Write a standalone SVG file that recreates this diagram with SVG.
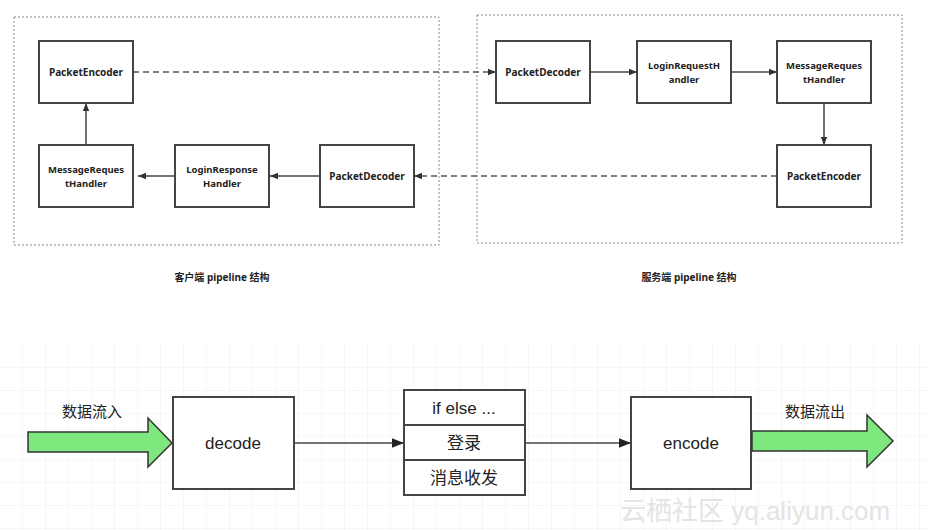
<svg xmlns="http://www.w3.org/2000/svg" width="944" height="530" viewBox="0 0 944 530">
<style>
.box{fill:#fff;stroke:#444;stroke-width:2}
.grp{fill:none;stroke:#888;stroke-width:1;stroke-dasharray:2 2}
.t{font-family:"Noto Sans","Noto Sans CJK SC",sans-serif;font-weight:bold;font-size:10px;fill:#222;text-anchor:middle}
.t2{font-family:"Noto Sans","Noto Sans CJK SC",sans-serif;font-weight:bold;font-size:9.5px;fill:#222;text-anchor:middle}
.b{font-family:"Liberation Sans","Noto Sans CJK SC",sans-serif;font-size:17px;fill:#222;text-anchor:middle}
.c{stroke:#444;stroke-width:1.5;fill:none}
.d{stroke:#555;stroke-width:1.5;fill:none;stroke-dasharray:6 4}
.ga{fill:#7ee87e;stroke:#333;stroke-width:1.5}
</style>
<defs>
<marker id="a" viewBox="0 0 10 10" refX="10" refY="5" markerWidth="8" markerHeight="8" markerUnits="userSpaceOnUse" orient="auto"><path d="M0,1L10,5L0,9z" fill="#333"/></marker>
<marker id="A" viewBox="0 0 10 10" refX="10" refY="5" markerWidth="12" markerHeight="12" markerUnits="userSpaceOnUse" orient="auto"><path d="M0,1L10,5L0,9z" fill="#222"/></marker>
<pattern id="grid" width="23" height="23" patternUnits="userSpaceOnUse"><path d="M23 0V23H0" fill="none" stroke="#ececec"/></pattern>
</defs>
<rect width="944" height="530" fill="#fff"/>
<rect x="0" y="345" width="930" height="185" fill="url(#grid)"/>
<rect class="grp" x="14" y="17" width="425" height="228"/>
<rect class="grp" x="477" y="15" width="425" height="228"/>
<text class="t" x="222" y="281">客户端 pipeline 结构</text>
<text class="t" x="689" y="281">服务端 pipeline 结构</text>
<g id="connectors">
<path class="d" d="M133 72H496" marker-end="url(#a)"/>
<path class="d" d="M777 176H414" marker-end="url(#a)"/>
<path class="c" d="M86 145V103" marker-end="url(#a)"/>
<path class="c" d="M175 176H138" marker-end="url(#a)"/>
<path class="c" d="M320 176H270" marker-end="url(#a)"/>
<path class="c" d="M590 72H637" marker-end="url(#a)"/>
<path class="c" d="M731 72H777" marker-end="url(#a)"/>
<path class="c" d="M824 103V145" marker-end="url(#a)"/>
<path class="c" d="M294 443H404" marker-end="url(#A)"/>
<path class="c" d="M525 443H631" marker-end="url(#A)"/>
</g>
<g id="c_enc"><rect class="box" x="39" y="41" width="94" height="62"/><text class="t" x="86" y="76">PacketEncoder</text></g>
<g id="c_msg"><rect class="box" x="39" y="145" width="94" height="62"/><text class="t2" x="86" y="173">MessageReques</text><text class="t2" x="86" y="187">tHandler</text></g>
<g id="c_login"><rect class="box" x="175" y="145" width="94" height="62"/><text class="t2" x="222" y="173">LoginResponse</text><text class="t2" x="222" y="187">Handler</text></g>
<g id="c_dec"><rect class="box" x="320" y="145" width="94" height="62"/><text class="t" x="367" y="180">PacketDecoder</text></g>
<g id="s_dec"><rect class="box" x="496" y="41" width="94" height="62"/><text class="t" x="543" y="76">PacketDecoder</text></g>
<g id="s_login"><rect class="box" x="637" y="41" width="94" height="62"/><text class="t2" x="684" y="69">LoginRequestH</text><text class="t2" x="684" y="83">andler</text></g>
<g id="s_msg"><rect class="box" x="777" y="41" width="94" height="62"/><text class="t2" x="824" y="69">MessageReques</text><text class="t2" x="824" y="83">tHandler</text></g>
<g id="s_enc"><rect class="box" x="777" y="145" width="94" height="62"/><text class="t" x="824" y="180">PacketEncoder</text></g>
<g id="in"><path class="ga" d="M28 432H148V418L172 443L148 467V452H28z"/><text class="b" x="92" y="417" style="font-size:15px">数据流入</text></g>
<g id="decode"><rect class="box" x="173" y="397" width="121" height="92"/><text class="b" x="233" y="449">decode</text></g>
<g id="stack"><rect class="box" x="404" y="390" width="121" height="35"/><rect class="box" x="404" y="425" width="121" height="35"/><rect class="box" x="404" y="460" width="121" height="35"/>
<text class="b" x="464" y="414">if else ...</text><text class="b" x="464" y="449">登录</text><text class="b" x="464" y="484">消息收发</text></g>
<g id="encode"><rect class="box" x="631" y="397" width="120" height="92"/><text class="b" x="691" y="449">encode</text></g>
<g id="out"><path class="ga" d="M752 431H867V415L893 441L867 467V451H752z"/><text class="b" x="815" y="417" style="font-size:15px">数据流出</text></g>
<text x="620" y="520" style="font-family:'Liberation Sans','Noto Sans CJK SC',sans-serif;font-size:26px;fill:#e4e4e4">云栖社区 yq.aliyun.com</text>
</svg>
